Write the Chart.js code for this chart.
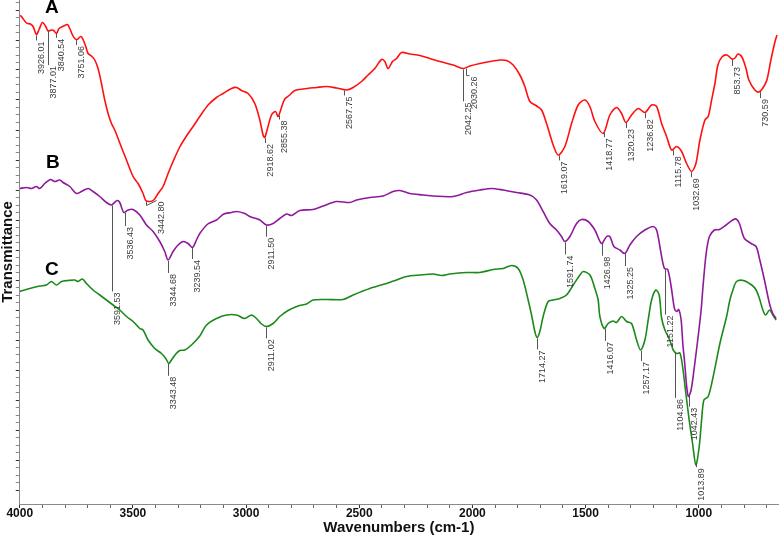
<!DOCTYPE html>
<html><head><meta charset="utf-8">
<script src="https://cdn.jsdelivr.net/npm/chart.js@4.4.0/dist/chart.umd.min.js"></script>
<style>html,body{margin:0;padding:0;background:#fff;}canvas{display:block;}</style>
</head><body>
<canvas id="c" width="779" height="535"></canvas>
<script>
// ---- Series A (red) ----
const waveA = [3999,
 3992.5,3970.4,3952.7,3941.2,3926.2,3914.7,3899.7,3885.1,3874.9,3859.9,
 3849.8,3837.8,3826.3,3805.6,3789.2,3779.1,3767.1,3756.9,3746.8,3730.4,
 3720.3,3708.3,3698.2,3683.2,3668.6,3654,3639,3624.4,3609.8,3594.8,
 3580.2,3558.1,3528.5,3499.3,3477.2,3455.1,3443.2,3425.5,3407.9,3388.9,
 3366.8,3344.7,3322.6,3293,3263.4,3234.2,3204.6,3167.9,3130.8,3101.6,
 3064.5,3042.4,3020.3,2991.1,2961.5,2939.4,2924.9,2917.4,2907.3,2887.8,
 2870.1,2858.6,2843.6,2828.9,2806.9,2784.8,2748.1,2688.9,2644.7,2600.5,
 2556.3,2527.1,2490,2460.8,2431.3,2401.7,2387.1,2372.5,2353,2335.4,
 2313.3,2276.6,2232.4,2188.2,2144,2085.3,2041.1,2011.4,1967.2,1923,
 1878.8,1849.2,1820.1,1790.5,1768.4,1746.3,1716.7,1694.6,1672.5,1643.3,
 1621.2,1591.6,1562,1532.9,1503.3,1481.2,1459.1,1422.4,1392.8,1363.2,
 1341.1,1322.1,1296.9,1267.7,1238.1,1208.5,1186.4,1164.3,1142.2,1120.1,
 1098,1075.9,1053.8,1031.7,1012.7,995,972.9,958.4,943.3,928.7,
 915.5,897.8,875.7,853.6,840.3,827.3,809.6,791.9,778.7,752.2,
 734.5,716.8,699.1,681.4,663.7,654.8];
const transA = [97.7,
 97.5,96.2,96.0,95.5,93.9,94.9,96.3,95.5,94.6,94.8,
 94.7,94.1,95.1,95.6,95.9,95.1,93.8,93.1,92.9,93.5,
 92.9,91.5,90.1,89.6,88.8,87.1,84.1,80.8,78.1,76.1,
 74.8,72.2,68.8,65.5,64.1,62.1,60.7,60.5,60.8,62.1,
 63.5,66.1,68.5,71.4,73.6,75.5,77.5,79.8,81.3,82.1,
 83.1,83.3,82.7,82.1,80.1,76.8,73.8,73.3,74.8,77.8,
 78.5,77.5,79.3,81,81.8,82.7,83,83.3,83.5,83.2,
 82.8,83.3,84.5,85.8,87.1,88.9,88.5,87.1,88.5,89.1,
 90.3,90,89.7,89.1,88.5,87.8,87.1,87.6,88.1,88.5,
 88.8,88.7,87.8,85.8,83.5,80.5,79.6,78.8,76.1,71.8,
 69.8,71.5,76.1,79.8,80.8,79.5,76.5,74.1,77.8,79.3,
 78.1,76.3,77.8,79.1,78.3,79.8,79.5,76.1,73.5,70.8,
 71.5,70.5,68.1,66.5,68.1,72.8,76.8,77.5,80.8,84.1,
 87.8,89.4,89.8,89,89.2,90,89.4,87.2,84.8,82.8,
 82.4,83.2,84.8,88.8,92.4,93.8];

// ---- Series B (purple) ----
const waveB = [
 4000,3970.4,3948.3,3926.2,3911.6,3889.5,3864.3,3845.3,3823.2,3808.7,
 3779.1,3749.4,3727.3,3698.2,3676.1,3646.5,3616.9,3594.8,3570,3558.1,
 3540.4,3521.4,3499.3,3469.7,3440.1,3410.9,3381.3,3359.3,3344.7,3322.6,
 3300.5,3278.4,3256.3,3236.9,3219.2,3204.6,3169.2,3130.8,3098.5,3064.5,
 3042.4,3005.7,2983.6,2939.4,2909.8,2880.6,2851.1,2821.4,2799.3,2762.7,
 2703.9,2659.7,2600.5,2541.7,2512.1,2453.4,2394.6,2350.4,2320.8,2276.6,
 2217.8,2173.6,2085.3,2026,1967.2,1915.6,1864.3,1805.1,1746.3,1716.7,
 1687.6,1658.2,1628.6,1606.5,1591.6,1569.5,1539.9,1517.8,1488.7,1459.1,
 1429.5,1407.4,1392.8,1375.1,1348.6,1326.5,1304.4,1274.8,1238.1,1201.4,
 1186.4,1171.8,1164.3,1151.7,1137.2,1122.1,1107.5,1097.4,1088.6,1078,
 1070.1,1063.4,1053.3,1045.8,1033.9,1019.3,1004.7,989.6,982.6,967.5,
 952.9,930.8,908.7,879.1,849.9,834.9,820.4,798.3,768.7,746.6,
 732,709.9,687.8,673.2,658.2];
const transB = [
 63.1,63.3,63.1,63.5,63.1,64.1,64.9,64.5,64.8,64.3,
 63.5,62.1,62.5,63.1,62.5,61.5,60.3,59.8,60.7,60.3,
 58.3,58.8,58.9,57.8,55.8,54.5,52.5,50.5,48.8,50.5,
 51.8,52.5,52.1,51.3,52.8,54.1,56,56.8,58,58.3,
 58.5,58.1,57.5,56.8,55.8,56.1,57.1,58,57.7,58.7,
 58.9,59.6,60.5,60.3,60.8,61.3,61.6,62.5,62.7,62.1,
 61.8,61.6,61.5,62.3,62.8,63.1,62.8,62.3,61.8,60.8,
 58.5,56.1,54.8,53.5,52.5,53.5,56.1,56.9,56.5,54.8,
 52.1,53.5,53.5,51.5,50.8,50.1,51.8,53.5,54.8,55.5,
 54.8,51.5,49.5,47.1,46.9,43.5,39.1,38.5,38.9,36.8,
 31.8,28.8,23.5,21.5,22.8,27.5,32.8,38.8,42.8,50.1,
 53.5,54.8,54.9,55.8,56.8,57,56.1,53.1,52.1,51.5,
 49.1,44.8,40.1,38.1,37.1];

// ---- Series C (green) ----
const waveC = [
 4000,3955.8,3911.6,3882,3859.9,3837.8,3815.7,3786.6,3756.9,3742.4,
 3722.9,3705.3,3676.1,3646.5,3616.9,3587.7,3558.1,3528.5,3499.3,3469.7,
 3455.1,3433,3403.4,3373.8,3354.8,3341.6,3329.6,3310.6,3293,3270.9,
 3241.3,3204.6,3175,3130.8,3086.6,3042.4,3005.7,2976.1,2954,2931.9,
 2909.8,2880.6,2851.1,2814.4,2770.2,2733.1,2703.9,2644.7,2571.3,2527.1,
 2453.4,2379.6,2335.4,2291.2,2232.4,2173.6,2136.5,2099.8,2026,1967.2,
 1908.4,1864.3,1827.2,1798,1775.9,1753.8,1738.8,1724.3,1714.1,1702.2,
 1687.6,1665.5,1643.3,1613.8,1584.2,1554.7,1525.1,1510.5,1480.9,1459.1,
 1444.5,1437,1418,1400.3,1378.2,1363.2,1341.1,1319,1296.9,1274.8,
 1257.1,1238.1,1223.5,1208.5,1189.5,1174.9,1164.3,1149.7,1135.2,1120.1,
 1113,1098,1083.5,1071.6,1057,1042.4,1027.4,1012.7,998.1,987.5,
 977.4,958.4,936.3,906.7,877.1,862.6,849.3,833,803.2,766.2,
 746.6,732,716.8,704.9,687.2,672.7,658.2];
const transC = [
 42.5,43.1,43.6,43.8,44.5,43.8,44.5,44.7,44.8,44.5,
 45,44.1,42.8,41.8,40.8,39.8,38.8,37.5,36.5,35.1,
 34.8,32.8,31.1,30.1,29.1,28.1,28.8,30,30.7,30.8,
 31.8,33.6,35.8,37.1,37.8,37.8,37.1,37.8,37.1,36,
 35.5,36.1,37.5,38.7,39.6,40,40.8,40.9,40.9,41.8,
 43.1,44.1,44.8,45.5,45.8,46,45.7,46,46.3,46.3,
 46.9,47.1,47.7,47.1,44.8,40.8,37.8,34.5,33.3,34.5,
 37.5,40.5,40.8,41.1,41.8,43.8,45.8,46.5,45.8,43.1,
 40.8,37.5,35.1,36.1,36.6,36.3,37.5,36.5,36.1,32.8,
 30.8,32.8,36.8,40.8,42.8,41.8,37.2,34.8,33.5,31.8,
 30.8,30.1,30.2,27.5,22.1,16.8,12.1,7.8,11.5,16.8,
 20.8,21.5,25.5,32.1,37.5,40.8,42.8,44.5,44.7,43.8,
 42.8,41.1,38.8,37.8,38.8,37.8,36.8];

// ---- Peak labels (wavenumbers) ----
const peaksA = [3926.01,3877.01,3840.54,3751.06,3442.80,2918.62,2855.38,2567.75,2042.25,2030.26,1619.07,1418.77,1320.23,1236.82,1115.78,1032.69,853.73,730.59];
const peaksB = [3591.53,3536.43,3344.68,3239.54,2911.50,1591.74,1426.98,1325.25,1151.22,1042.43];
const peaksC = [3343.48,2911.02,1714.27,1416.07,1257.17,1104.86,1013.89];

// ---- Curve letters ----
const letterText = ['A','B','C'];
const letterWave = [3858.6,3854.2,3858.6];
const letterT = [99.2,68.2,46.8];

// ---- X tick labels ----
const xTickLabels = [4000,3500,3000,2500,2000,1500,1000];

// ---- label styling (leader length px, text shift px) ----
const leaderA = [5,34,4,5,4,5,4,5,32,7,5,5,5,5,5,5,6,6];
const shiftA = {4:[11,-5], 9:[4,0]};
const leaderB = [86,13,12,11,11,12,12,12,45,11];
const leaderC = [12,11,11,12,10,45,3];

const pts = (w,t) => w.map((x,i)=>({x:x,y:t[i]}));
function valueAt(ws, ts, w){
  for (let i=0;i<ws.length-1;i++){
    if (ws[i]>=w && ws[i+1]<=w){
      const f=(ws[i]-w)/(ws[i]-ws[i+1]);
      return ts[i]+f*(ts[i+1]-ts[i]);
    }
  }
  return ts[ts.length-1];
}

const labelGroups = [
  {peaks:peaksA, w:waveA, t:transA, lead:leaderA, shift:shiftA},
  {peaks:peaksB, w:waveB, t:transB, lead:leaderB, shift:{}},
  {peaks:peaksC, w:waveC, t:transC, lead:leaderC, shift:{}}
];

const annot = {
  id:'annot',
  afterDatasetsDraw(chart){
    const {ctx, scales:{x,y}} = chart;
    ctx.save();
    ctx.font = '9px "Liberation Sans", Arial, sans-serif';
    ctx.fillStyle = '#3a3a3a';
    ctx.strokeStyle = '#555';
    ctx.lineWidth = 1;
    labelGroups.forEach(g=>{
      g.peaks.forEach((p,i)=>{
        const px = Math.round(x.getPixelForValue(p))+0.5;
        const py = y.getPixelForValue(valueAt(g.w,g.t,p));
        const len = g.lead[i];
        const sh = g.shift[i] || [1,0];
        const yEnd = py+1+len;
        ctx.beginPath();
        ctx.moveTo(px, py+1);
        ctx.lineTo(px, yEnd);
        if (sh[0]>2){ ctx.lineTo(px+sh[0]-1, yEnd+sh[1]); }
        ctx.stroke();
        ctx.save();
        ctx.translate(px+sh[0], yEnd+sh[1]+1);
        ctx.rotate(-Math.PI/2);
        ctx.textAlign='right';
        ctx.textBaseline='top';
        ctx.fillText(p.toFixed(2),0,0);
        ctx.restore();
      });
    });
    ctx.font = 'bold 19px "Liberation Sans", Arial, sans-serif';
    ctx.fillStyle = '#000';
    ctx.textAlign='center';
    ctx.textBaseline='middle';
    letterText.forEach((s,i)=>{
      ctx.fillText(s, x.getPixelForValue(letterWave[i]), y.getPixelForValue(letterT[i]));
    });
    ctx.restore();
  }
};

new Chart(document.getElementById('c'), {
  type:'line',
  data:{datasets:[
    {label:'A', data:pts(waveA,transA), borderColor:'#ff1010', borderWidth:1.6},
    {label:'B', data:pts(waveB,transB), borderColor:'#8e1a9a', borderWidth:1.6},
    {label:'C', data:pts(waveC,transC), borderColor:'#1b8a1b', borderWidth:1.6}
  ]},
  options:{
    responsive:false, animation:false, devicePixelRatio:1,
    layout:{padding:{left:0,right:1,top:0,bottom:0}},
    elements:{point:{radius:0}, line:{tension:0.3, fill:false}},
    plugins:{legend:{display:false}, tooltip:{enabled:false}},
    scales:{
      x:{type:'linear', reverse:true, min:650, max:4000,
        afterBuildTicks(s){ const t=[]; for(let v=700; v<=4000; v+=100) t.push({value:v}); s.ticks=t; },
        ticks:{autoSkip:false, maxRotation:0, minRotation:0, padding:0, color:'#111',
          font:{family:'"Liberation Sans", Arial, sans-serif', size:12, weight:'bold', lineHeight:1},
          callback:(v)=> xTickLabels.includes(v) ? String(v) : ''},
        grid:{drawOnChartArea:false, drawTicks:true, tickLength:4,
          tickColor:(c)=> (c.tick && xTickLabels.includes(c.tick.value)) ? '#333' : '#666'},
        border:{display:true, color:'#8a8a8a', width:1},
        title:{display:true, text:'Wavenumbers (cm-1)', color:'#111', padding:{top:0,bottom:0},
          font:{family:'"Liberation Sans", Arial, sans-serif', size:15, weight:'bold', lineHeight:1}}
      },
      y:{type:'linear', min:0, max:100.8,
        afterBuildTicks(s){ const t=[]; for(let k=0;k<=65;k++) t.push({value:+(2.8+1.5*k).toFixed(2)}); s.ticks=t; },
        ticks:{display:false},
        grid:{drawOnChartArea:false, drawTicks:true, tickLength:4,
          tickColor:(c)=> (c.index%4===0) ? '#333' : '#888'},
        border:{display:true, color:'#8a8a8a', width:1},
        title:{display:true, text:'Transmittance', color:'#111', padding:{top:0,bottom:0},
          font:{family:'"Liberation Sans", Arial, sans-serif', size:15, weight:'bold', lineHeight:1.05}}
      }
    }
  },
  plugins:[annot]
});
</script>
</body></html>
